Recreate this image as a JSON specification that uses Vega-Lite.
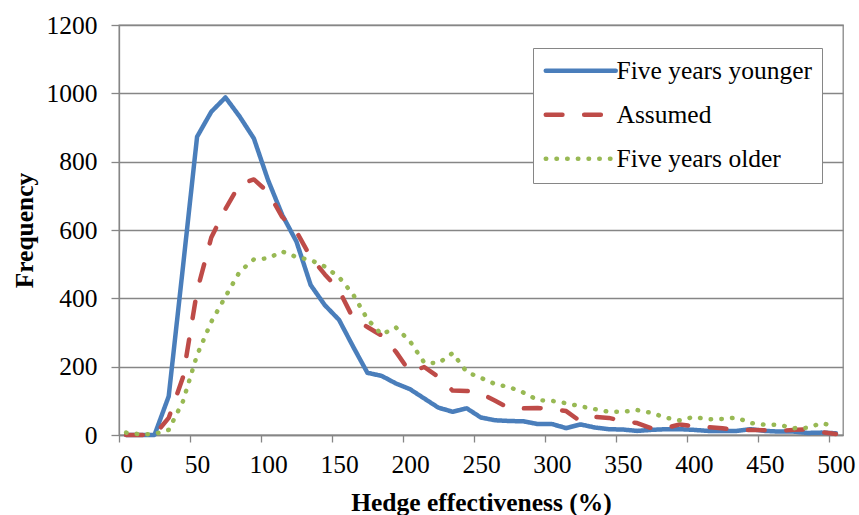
{
  "$schema": "https://vega.github.io/schema/vega-lite/v6.json",
  "autosize": "none",
  "padding": {"left": 119, "top": 25, "right": 16, "bottom": 80},
  "width": 724,
  "height": 410,
  "background": "white",
  "config": {
    "font": "Times New Roman, Liberation Serif, serif",
    "view": {"stroke": "#868686", "strokeWidth": 1.3},
    "axis": {
      "domainColor": "#868686", "domainWidth": 1.3,
      "tickColor": "#868686", "tickWidth": 1.3,
      "gridColor": "#868686", "gridWidth": 1.3,
      "labelColor": "black", "titleColor": "black",
      "labelFont": "Times New Roman, Liberation Serif, serif", "titleFont": "Times New Roman, Liberation Serif, serif",
      "labelFontSize": 25.5, "titleFontSize": 25.5, "titleFontWeight": "bold"
    },
    "legend": {"labelFont": "Times New Roman, Liberation Serif, serif"}
  },
  "data": {"values": [
    {"x":0,"s":"Five years younger","y":0},{"x":10,"s":"Five years younger","y":0},{"x":20,"s":"Five years younger","y":0},{"x":30,"s":"Five years younger","y":113},{"x":40,"s":"Five years younger","y":490},{"x":50,"s":"Five years younger","y":873},{"x":60,"s":"Five years younger","y":946},{"x":70,"s":"Five years younger","y":988},{"x":80,"s":"Five years younger","y":932},{"x":90,"s":"Five years younger","y":868},{"x":100,"s":"Five years younger","y":746},{"x":110,"s":"Five years younger","y":644},{"x":120,"s":"Five years younger","y":566},{"x":130,"s":"Five years younger","y":439},{"x":140,"s":"Five years younger","y":380},{"x":150,"s":"Five years younger","y":337},{"x":160,"s":"Five years younger","y":258},{"x":170,"s":"Five years younger","y":182},{"x":180,"s":"Five years younger","y":173},{"x":190,"s":"Five years younger","y":151},{"x":200,"s":"Five years younger","y":134},{"x":210,"s":"Five years younger","y":107},{"x":220,"s":"Five years younger","y":80},{"x":230,"s":"Five years younger","y":68},{"x":240,"s":"Five years younger","y":78},{"x":250,"s":"Five years younger","y":51},{"x":260,"s":"Five years younger","y":43},{"x":270,"s":"Five years younger","y":41},{"x":280,"s":"Five years younger","y":40},{"x":290,"s":"Five years younger","y":32},{"x":300,"s":"Five years younger","y":32},{"x":310,"s":"Five years younger","y":20},{"x":320,"s":"Five years younger","y":31},{"x":330,"s":"Five years younger","y":22},{"x":340,"s":"Five years younger","y":17},{"x":350,"s":"Five years younger","y":16},{"x":360,"s":"Five years younger","y":12},{"x":370,"s":"Five years younger","y":15},{"x":380,"s":"Five years younger","y":17},{"x":390,"s":"Five years younger","y":17},{"x":400,"s":"Five years younger","y":15},{"x":410,"s":"Five years younger","y":12},{"x":420,"s":"Five years younger","y":12},{"x":430,"s":"Five years younger","y":12},{"x":440,"s":"Five years younger","y":17},{"x":450,"s":"Five years younger","y":12},{"x":460,"s":"Five years younger","y":10},{"x":470,"s":"Five years younger","y":10},{"x":480,"s":"Five years younger","y":6},{"x":490,"s":"Five years younger","y":7},{"x":500,"s":"Five years younger","y":5},
    {"x":0,"s":"Assumed","y":0},{"x":10,"s":"Assumed","y":0},{"x":20,"s":"Assumed","y":0},{"x":30,"s":"Assumed","y":50},{"x":40,"s":"Assumed","y":168},{"x":50,"s":"Assumed","y":422},{"x":60,"s":"Assumed","y":578},{"x":70,"s":"Assumed","y":662},{"x":80,"s":"Assumed","y":734},{"x":90,"s":"Assumed","y":748},{"x":100,"s":"Assumed","y":711},{"x":110,"s":"Assumed","y":638},{"x":120,"s":"Assumed","y":595},{"x":130,"s":"Assumed","y":521},{"x":140,"s":"Assumed","y":470},{"x":150,"s":"Assumed","y":424},{"x":160,"s":"Assumed","y":341},{"x":170,"s":"Assumed","y":316},{"x":180,"s":"Assumed","y":291},{"x":190,"s":"Assumed","y":244},{"x":200,"s":"Assumed","y":184},{"x":210,"s":"Assumed","y":199},{"x":220,"s":"Assumed","y":170},{"x":230,"s":"Assumed","y":130},{"x":240,"s":"Assumed","y":129},{"x":250,"s":"Assumed","y":122},{"x":260,"s":"Assumed","y":100},{"x":270,"s":"Assumed","y":78},{"x":280,"s":"Assumed","y":78},{"x":290,"s":"Assumed","y":79},{"x":300,"s":"Assumed","y":76},{"x":310,"s":"Assumed","y":70},{"x":320,"s":"Assumed","y":40},{"x":330,"s":"Assumed","y":53},{"x":340,"s":"Assumed","y":50},{"x":350,"s":"Assumed","y":41},{"x":360,"s":"Assumed","y":35},{"x":370,"s":"Assumed","y":20},{"x":380,"s":"Assumed","y":20},{"x":390,"s":"Assumed","y":31},{"x":400,"s":"Assumed","y":26},{"x":410,"s":"Assumed","y":23},{"x":420,"s":"Assumed","y":20},{"x":430,"s":"Assumed","y":15},{"x":440,"s":"Assumed","y":15},{"x":450,"s":"Assumed","y":14},{"x":460,"s":"Assumed","y":12},{"x":470,"s":"Assumed","y":15},{"x":480,"s":"Assumed","y":17},{"x":490,"s":"Assumed","y":8},{"x":500,"s":"Assumed","y":3},
    {"x":0,"s":"Five years older","y":7},{"x":10,"s":"Five years older","y":2},{"x":20,"s":"Five years older","y":3},{"x":30,"s":"Five years older","y":15},{"x":40,"s":"Five years older","y":98},{"x":50,"s":"Five years older","y":234},{"x":60,"s":"Five years older","y":331},{"x":70,"s":"Five years older","y":405},{"x":80,"s":"Five years older","y":478},{"x":90,"s":"Five years older","y":514},{"x":100,"s":"Five years older","y":517},{"x":110,"s":"Five years older","y":537},{"x":120,"s":"Five years older","y":521},{"x":130,"s":"Five years older","y":512},{"x":140,"s":"Five years older","y":493},{"x":150,"s":"Five years older","y":462},{"x":160,"s":"Five years older","y":411},{"x":170,"s":"Five years older","y":339},{"x":180,"s":"Five years older","y":294},{"x":190,"s":"Five years older","y":315},{"x":200,"s":"Five years older","y":274},{"x":210,"s":"Five years older","y":212},{"x":220,"s":"Five years older","y":210},{"x":230,"s":"Five years older","y":240},{"x":240,"s":"Five years older","y":184},{"x":250,"s":"Five years older","y":167},{"x":260,"s":"Five years older","y":149},{"x":270,"s":"Five years older","y":140},{"x":280,"s":"Five years older","y":124},{"x":290,"s":"Five years older","y":102},{"x":300,"s":"Five years older","y":100},{"x":310,"s":"Five years older","y":93},{"x":320,"s":"Five years older","y":84},{"x":330,"s":"Five years older","y":76},{"x":340,"s":"Five years older","y":68},{"x":350,"s":"Five years older","y":68},{"x":360,"s":"Five years older","y":73},{"x":370,"s":"Five years older","y":65},{"x":380,"s":"Five years older","y":51},{"x":390,"s":"Five years older","y":43},{"x":400,"s":"Five years older","y":53},{"x":410,"s":"Five years older","y":46},{"x":420,"s":"Five years older","y":47},{"x":430,"s":"Five years older","y":51},{"x":440,"s":"Five years older","y":35},{"x":450,"s":"Five years older","y":30},{"x":460,"s":"Five years older","y":30},{"x":470,"s":"Five years older","y":20},{"x":480,"s":"Five years older","y":21},{"x":490,"s":"Five years older","y":35},{"x":500,"s":"Five years older","y":24}
  ]},
  "mark": {"type": "line", "strokeWidth": 4.5, "strokeCap": "round", "strokeJoin": "round"},
  "encoding": {
    "x": {
      "field": "x", "type": "quantitative",
      "scale": {"domain": [-5, 505], "nice": false, "zero": false},
      "axis": {
        "values": [0, 50, 100, 150, 200, 250, 300, 350, 400, 450, 500], "format": "d",
        "grid": false, "tickSize": 7, "tickOffset": -7.1, "labelOffset": 7.1,
        "labelPadding": 10, "labelFlush": false, "labelOverlap": false,
        "title": "Hedge effectiveness (%)", "titleY": 55, "titleBaseline": "top"
      }
    },
    "y": {
      "field": "y", "type": "quantitative",
      "scale": {"domain": [0, 1200], "nice": false},
      "axis": {
        "values": [0, 200, 400, 600, 800, 1000, 1200], "format": "d",
        "grid": true, "tickSize": 8, "labelPadding": 14,
        "title": "Frequency", "titleX": -87, "titleY": 205, "titleBaseline": "alphabetic", "titleAngle": -90
      }
    },
    "color": {
      "field": "s", "type": "nominal",
      "scale": {"domain": ["Five years younger", "Assumed", "Five years older"], "range": ["#4A7EBB", "#BE4B48", "#98B954"]},
      "legend": {
        "title": null, "orient": "none", "legendX": 414, "legendY": 23,
        "symbolType": "M-3.5,0H3.5", "symbolSize": 400, "symbolStrokeWidth": 4.5,
        "symbolOffset": 25, "labelOffset": 23, "padding": 10, "rowPadding": 17,
        "labelFont": "Times New Roman, Liberation Serif, serif", "labelFontSize": 25.5, "labelColor": "black", "labelLimit": 400,
        "fillColor": "white", "strokeColor": "#868686",
        "encode": {"symbols": {"update": {"strokeCap": {"value": "round"}}}}
      }
    },
    "strokeDash": {
      "field": "s", "type": "nominal",
      "scale": {"domain": ["Five years younger", "Assumed", "Five years older"], "range": [[1, 0], [16.7, 21.7], [0.5, 10.2]]},
      "legend": {
        "title": null, "orient": "none", "legendX": 414, "legendY": 23,
        "symbolType": "M-3.5,0H3.5", "symbolSize": 400, "symbolStrokeWidth": 4.5,
        "symbolOffset": 25, "labelOffset": 23, "padding": 10, "rowPadding": 17,
        "labelFont": "Times New Roman, Liberation Serif, serif", "labelFontSize": 25.5, "labelColor": "black", "labelLimit": 400,
        "fillColor": "white", "strokeColor": "#868686",
        "encode": {"symbols": {"update": {"strokeCap": {"value": "round"}}}}
      }
    }
  }
}
